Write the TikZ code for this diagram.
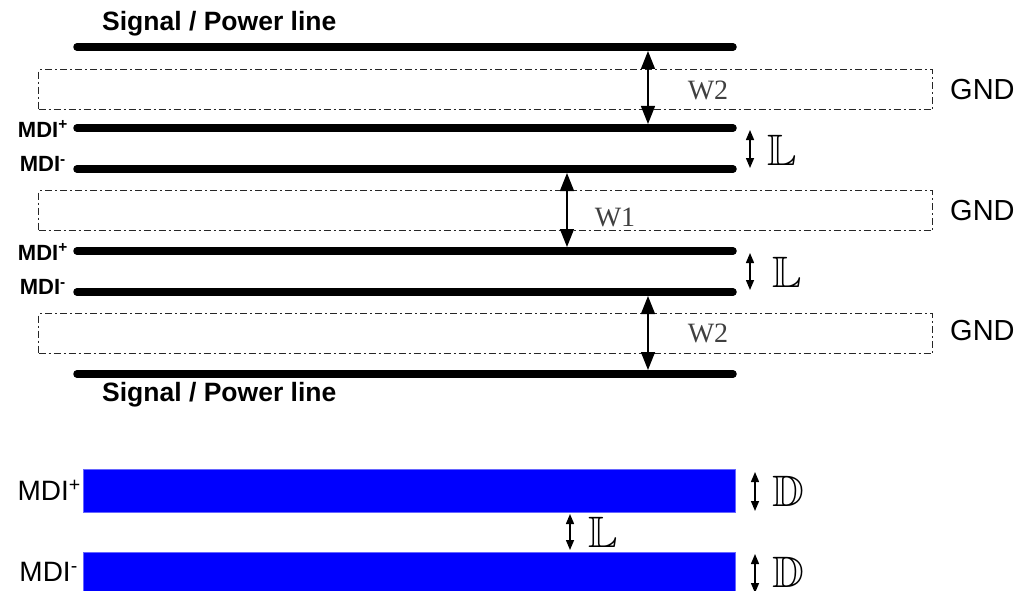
\documentclass[tikz,border=0pt]{standalone}
\usepackage{fontspec}
\usepackage{amssymb}
\setmainfont{Liberation Sans}
\newfontfamily\tms{Liberation Serif}
\usetikzlibrary{arrows.meta}
\tikzset{
  trace/.style={line width=7.5pt, line cap=round},
  gndbox/.style={draw=black!85, line width=1.3pt, dash pattern=on 7pt off 3pt on 2pt off 3pt},
  bigarr/.style={line width=1.4pt, {Triangle[width=14pt,length=18pt]}-{Triangle[width=14pt,length=18pt]}},
  smallarr/.style={line width=1.4pt, {Triangle[width=8pt,length=10pt]}-{Triangle[width=8pt,length=10pt]}},
  lbl/.style={font=\fontsize{26.5}{28}\selectfont\bfseries, inner sep=0pt},
  mdi/.style={font=\fontsize{22}{24}\selectfont\bfseries, inner sep=0pt},
  mdibig/.style={font=\fontsize{28}{30}\selectfont, inner sep=0pt},
  gnd/.style={font=\fontsize{29}{31}\selectfont, inner sep=0pt},
  wlbl/.style={font=\fontsize{28}{30}\selectfont\tms, text=black!75, inner sep=0pt},
  dbl/.style={font=\fontsize{44}{46}\selectfont, inner sep=0pt},
  bluebar/.style={fill=blue, draw=blue!60, line width=0.8pt}
}
\begin{document}
\begin{tikzpicture}[x=1pt,y=-1pt]
\useasboundingbox (0,0) rectangle (1019,591);
% trace end points
\foreach \n/\y in {s1/47, p1/128, m1/169, p2/251, m2/292, s2/374}{
  \coordinate (\n L) at (77,\y);
  \coordinate (\n R) at (733,\y);
}
\draw[trace] (s1L) -- (s1R);
\draw[trace] (p1L) -- (p1R);
\draw[trace] (m1L) -- (m1R);
\draw[trace] (p2L) -- (p2R);
\draw[trace] (m2L) -- (m2R);
\draw[trace] (s2L) -- (s2R);
% GND boxes
\node[gndbox, minimum width=894pt, minimum height=40pt, anchor=north west, inner sep=0pt] (g1) at (38,69) {};
\node[gndbox, minimum width=894pt, minimum height=40pt, anchor=north west, inner sep=0pt] (g2) at (38,190) {};
\node[gndbox, minimum width=894pt, minimum height=40pt, anchor=north west, inner sep=0pt] (g3) at (38,313) {};
\node[gnd, anchor=west] (gl1) at (950,90) {GND};
\node[gnd, anchor=west] (gl2) at (950,211) {GND};
\node[gnd, anchor=west] (gl3) at (950,331) {GND};
% labels
\node[lbl, anchor=west] (sig1) at (102,24) {Signal / Power line};
\node[lbl, anchor=west] (sig2) at (102,395) {Signal / Power line};
\node[mdi, anchor=east] (mp1) at (68,129) {MDI\textsuperscript{+}};
\node[mdi, anchor=east] (mm1) at (66,164) {MDI\textsuperscript{-}};
\node[mdi, anchor=east] (mp2) at (68,252) {MDI\textsuperscript{+}};
\node[mdi, anchor=east] (mm2) at (66,287) {MDI\textsuperscript{-}};
% W arrows
\coordinate (w2a) at (648,51);  \coordinate (w2b) at (648,124);
\coordinate (w1a) at (567,173); \coordinate (w1b) at (567,247);
\coordinate (w3a) at (648,296); \coordinate (w3b) at (648,370);
\draw[bigarr] (w2a) -- (w2b);
\draw[bigarr] (w1a) -- (w1b);
\draw[bigarr] (w3a) -- (w3b);
\node[wlbl] (w2t) at (708,90) {W2};
\node[wlbl] (w1t) at (615,217) {W1};
\node[wlbl] (w3t) at (708,333) {W2};
% L arrows
\coordinate (l1a) at (750,130); \coordinate (l1b) at (750,168);
\coordinate (l2a) at (750,253); \coordinate (l2b) at (750,290);
\draw[smallarr] (l1a) -- (l1b);
\draw[smallarr] (l2a) -- (l2b);
\node[dbl, anchor=west] (lt1) at (767,150) {$\mathbb{L}$};
\node[dbl, anchor=west] (lt2) at (772,272) {$\mathbb{L}$};
% bottom: blue bars
\node[bluebar, minimum width=652pt, minimum height=43pt, anchor=north west, inner sep=0pt] (bp) at (83,469) {};
\node[bluebar, minimum width=652pt, minimum height=45pt, anchor=north west, inner sep=0pt] (bm) at (83,552) {};
\node[mdibig, anchor=east] (bpl) at (81,490) {MDI\textsuperscript{+}};
\node[mdibig, anchor=east] (bml) at (78,572) {MDI\textsuperscript{-}};
\coordinate (d1a) at (755,472); \coordinate (d1b) at (755,511);
\coordinate (d2a) at (755,554); \coordinate (d2b) at (755,593);
\draw[smallarr] (d1a) -- (d1b);
\draw[smallarr] (d2a) -- (d2b);
\node[dbl, anchor=west] (dt1) at (772,491) {$\mathbb{D}$};
\node[dbl, anchor=west] (dt2) at (772,572) {$\mathbb{D}$};
\coordinate (l3a) at (570,514); \coordinate (l3b) at (570,550);
\draw[smallarr] (l3a) -- (l3b);
\node[dbl, anchor=west] (lt3) at (588,532) {$\mathbb{L}$};
\end{tikzpicture}
\end{document}
